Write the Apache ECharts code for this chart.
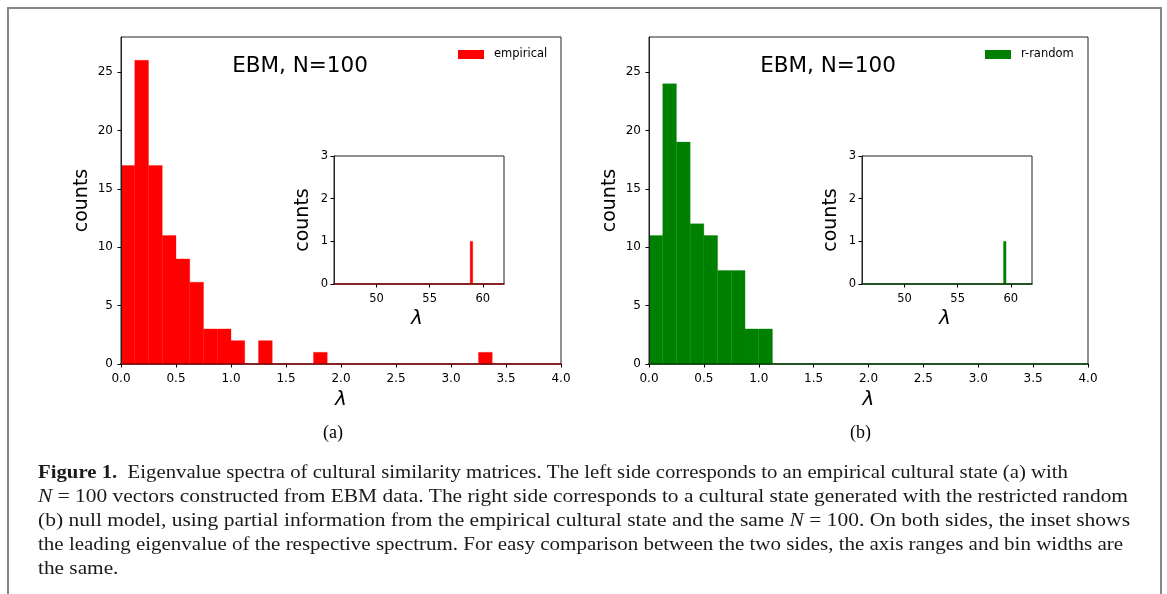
<!DOCTYPE html>
<html><head><meta charset="utf-8">
<script src="https://cdn.jsdelivr.net/npm/echarts@6/dist/echarts.min.js"></script>
<style>html,body{margin:0;padding:0;background:#fff}#c{width:1167px;height:594px}</style>
</head><body><div id="c"></div>
<script>
// ---- data ----
const binWidth = 0.125;
// counts per bin, bins start at 0 with width binWidth, covering 0..4
const empiricalCounts = [17,26,17,11,9,7,3,3,2,0,2,0,0,0,1,0,0,0,0,0,0,0,0,0,0,0,1,0,0,0,0,0];
const rRandomCounts   = [11,24,19,12,11,8,8,3,3,0,0,0,0,0,0,0,0,0,0,0,0,0,0,0,0,0,0,0,0,0,0,0];
// leading eigenvalue bins: [bin start, count]
const empiricalLeading = [58.875, 1];
const rRandomLeading   = [59.375, 1];
const mainXTicks = [0, 0.5, 1, 1.5, 2, 2.5, 3, 3.5, 4];
const mainYTicks = [0, 5, 10, 15, 20, 25];
const insetXTicks = [50, 55, 60];
const insetYTicks = [0, 1, 2, 3];
const seriesNames = ['empirical', 'r-random'];
const panelTitle = 'EBM, N=100';
const panelLabels = ['(a)', '(b)'];
const captionLines = [
  [{b:'Figure 1.'}, {t:'  Eigenvalue spectra of cultural similarity matrices. The left side corresponds to an empirical cultural state (a) with'}],
  [{i:'N'}, {t:' = 100 vectors constructed from EBM data. The right side corresponds to a cultural state generated with the restricted random'}],
  [{t:'(b) null model, using partial information from the empirical cultural state and the same '}, {i:'N'}, {t:' = 100. On both sides, the inset shows'}],
  [{t:'the leading eigenvalue of the respective spectrum. For easy comparison between the two sides, the axis ranges and bin widths are'}],
  [{t:'the same.'}]
];

// ---- helpers ----
const FONT = 'DejaVu Sans';
const SERIF = 'Liberation Serif';
function histData(counts){ return counts.map((c,i)=>[i*binWidth,(i+1)*binWidth,c]); }
function leadData(l){ return [[l[0], l[0]+binWidth, l[1]]]; }
function histRender(minW){
  return function(params, api){
    const x0 = api.value(0), x1 = api.value(1), c = api.value(2);
    if (!(c > 0)) return null;
    const p0 = api.coord([x0, c]), p1 = api.coord([x1, 0]);
    let x = p0[0], w = p1[0]-p0[0];
    if (w < minW){ x -= (minW-w)/2; w = minW; }
    return {type:'rect', shape:{x:x, y:p0[1], width:w, height:p1[1]-p0[1]},
      style:{fill:api.visual('color'), stroke:api.visual('color'), lineWidth:0.3}};
  };
}
const colors = ['#ff0000', '#008000'];
const baseColors = ['#800000', '#004000'];
const mainGrids = [{left:121, top:37, width:440, height:327}, {left:649, top:37, width:439, height:327}];
const insetGrids = [{left:334, top:156, width:170, height:128}, {left:862, top:156, width:170, height:128}];

const grid=[], xAxis=[], yAxis=[], series=[], legend=[], graphic=[];
const tickLabel = {fontFamily:FONT, fontSize:12, color:'#000'};
[0,1].forEach(k=>{
  const counts = k===0 ? empiricalCounts : rRandomCounts;
  const lead = k===0 ? empiricalLeading : rRandomLeading;
  const mg = mainGrids[k], ig = insetGrids[k];
  const gi = grid.length;
  grid.push(Object.assign({show:true, borderColor:'#222', borderWidth:1, containLabel:false}, mg));
  grid.push(Object.assign({show:true, borderColor:'#222', borderWidth:1, containLabel:false}, ig));
  // main axes
  xAxis.push({gridIndex:gi, type:'value', min:0, max:4, interval:0.5, z:5,
    axisLine:{show:true, onZero:false, lineStyle:{color:baseColors[k], width:1.6}},
    axisTick:{show:true, length:3.5, lineStyle:{color:'#000'}},
    axisLabel:Object.assign({margin:9, formatter:v=>v.toFixed(1)}, tickLabel),
    splitLine:{show:false}});
  yAxis.push({gridIndex:gi, type:'value', min:0, max:28, z:5,
    axisLine:{show:true, lineStyle:{color:'#222'}},
    axisTick:{show:true, length:3.5, customValues:mainYTicks, lineStyle:{color:'#000'}},
    axisLabel:Object.assign({margin:8, customValues:mainYTicks}, tickLabel),
    splitLine:{show:false}});
  // inset axes
  xAxis.push({gridIndex:gi+1, type:'value', min:46, max:62, z:5,
    axisLine:{show:true, onZero:false, lineStyle:{color:baseColors[k], width:1.6}},
    axisTick:{show:true, length:3.5, customValues:insetXTicks, lineStyle:{color:'#000'}},
    axisLabel:Object.assign({margin:9, customValues:insetXTicks}, tickLabel, {fontSize:11.5}),
    splitLine:{show:false}});
  yAxis.push({gridIndex:gi+1, type:'value', min:0, max:3, interval:1, z:5,
    axisLine:{show:true, lineStyle:{color:'#222'}},
    axisTick:{show:true, length:3.5, lineStyle:{color:'#000'}},
    axisLabel:Object.assign({margin:6}, tickLabel, {fontSize:11.5}),
    splitLine:{show:false}});
  series.push({type:'custom', name:seriesNames[k], xAxisIndex:gi, yAxisIndex:gi, clip:true,
    itemStyle:{color:colors[k]}, encode:{x:[0,1], y:2}, data:histData(counts), renderItem:histRender(0)});
  series.push({type:'custom', name:seriesNames[k], xAxisIndex:gi+1, yAxisIndex:gi+1, clip:true,
    itemStyle:{color:colors[k]}, encode:{x:[0,1], y:2}, data:leadData(lead), renderItem:histRender(2.6)});
  legend.push({data:[seriesNames[k]], left:mg.left+mg.width-103, top:48.5, padding:0, selectedMode:false,
    icon:'rect', itemWidth:26, itemHeight:9, itemGap:0,
    textStyle:{fontFamily:FONT, fontSize:11.5, color:'#000', padding:[0,0,0,5]}});
  const cx = mg.left + mg.width/2;
  graphic.push({type:'text', x:mg.left+179, y:66, z:10, style:{text:panelTitle, fontFamily:FONT, fontSize:21.5, fill:'#000', align:'center', verticalAlign:'middle'}});
  graphic.push({type:'text', x:mg.left-39, y:mg.top+mg.height/2, rotation:Math.PI/2, z:10, style:{text:'counts', fontFamily:FONT, fontSize:19, fill:'#000', align:'center', verticalAlign:'middle'}});
  graphic.push({type:'text', x:cx, y:400, z:10, style:{text:'λ', fontFamily:FONT, fontStyle:'italic', fontSize:20, fill:'#000', align:'center', verticalAlign:'middle'}});
  graphic.push({type:'text', x:ig.left-31, y:ig.top+ig.height/2, rotation:Math.PI/2, z:10, style:{text:'counts', fontFamily:FONT, fontSize:19, fill:'#000', align:'center', verticalAlign:'middle'}});
  graphic.push({type:'text', x:ig.left+ig.width/2-2, y:319, z:10, style:{text:'λ', fontFamily:FONT, fontStyle:'italic', fontSize:20, fill:'#000', align:'center', verticalAlign:'middle'}});
  graphic.push({type:'text', x:cx-8, y:433, z:10, style:{text:panelLabels[k], fontFamily:SERIF, fontSize:18, fill:'#000', align:'center', verticalAlign:'middle'}});
});

// outer frame
graphic.push({type:'rect', z:0, shape:{x:8, y:8, width:1153, height:620}, style:{fill:'none', stroke:'#868686', lineWidth:2}});

// caption
const CAP_SIZE = 18;
const capRich = {
  b:{fontFamily:SERIF, fontSize:CAP_SIZE, fontWeight:'bold', fill:'#1a1a1a'},
  i:{fontFamily:SERIF, fontSize:CAP_SIZE, fontStyle:'italic', fill:'#1a1a1a'},
  t:{fontFamily:SERIF, fontSize:CAP_SIZE, fill:'#1a1a1a'}
};
const cv = document.createElement('canvas').getContext('2d');
function measureLine(line){
  let w = 0;
  line.forEach(seg=>{
    const key = Object.keys(seg)[0];
    const st = key==='b' ? 'bold ' : key==='i' ? 'italic ' : '';
    cv.font = st + CAP_SIZE + 'px "' + SERIF + '"';
    w += cv.measureText(seg[key]).width;
  });
  return w;
}
const CAP_LEFT = 38;
const lineEnds = [1068, 1128, 1130, 1123];
const scales = lineEnds.map((e,i)=>(e - CAP_LEFT) / measureLine(captionLines[i]));
const avgScale = (scales[1]+scales[2]+scales[3])/3;
captionLines.forEach((line, li)=>{
  const txt = line.map(seg=>{ const key = Object.keys(seg)[0]; return '{' + key + '|' + seg[key] + '}'; }).join('');
  const s = li < scales.length ? scales[li] : avgScale;
  graphic.push({type:'text', x:CAP_LEFT, y:473 + li*24, scaleX:s, z:10,
    style:{text:txt, rich:capRich, fontFamily:SERIF, fontSize:CAP_SIZE, align:'left', verticalAlign:'middle'}});
});

const chart = echarts.init(document.getElementById('c'), null, {renderer:'canvas', width:1167, height:594});
chart.setOption({animation:false, backgroundColor:'#fff', grid, xAxis, yAxis, series, legend, graphic});
</script></body></html>
